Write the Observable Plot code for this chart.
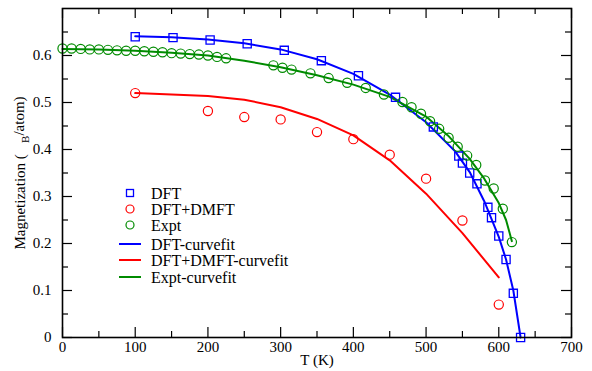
<!DOCTYPE html>
<html>
<head>
<meta charset="utf-8">
<script src="https://cdn.jsdelivr.net/npm/d3@7"></script>
<script src="https://cdn.jsdelivr.net/npm/@observablehq/plot@0.6"></script>
<style>
  html, body { margin: 0; padding: 0; background: #fff; }
  #chart svg { display: block; }
  #chart svg, #chart svg text { font-family: "Liberation Serif", "Times New Roman", serif !important; }
</style>
</head>
<body>
<div id="chart"></div>
<script>
// ---- data ----
const dftT = [100, 152, 203, 254, 305, 356, 407, 458, 510, 545, 550, 560, 570, 585, 590, 600, 610, 620, 630];
const dftM = [0.640, 0.638, 0.633, 0.625, 0.611, 0.589, 0.557, 0.511, 0.448, 0.386, 0.371, 0.350, 0.327, 0.277, 0.255, 0.216, 0.166, 0.094, 0.0];

const dmftT = [100, 200, 250, 300, 350, 400, 450, 500, 550, 600];
const dmftM = [0.520, 0.482, 0.469, 0.464, 0.437, 0.422, 0.389, 0.338, 0.249, 0.070];

const exptT = [0, 12.5, 25, 37.5, 50, 62.5, 75, 87.5, 100, 112.5, 125, 137.5, 150, 162.5, 175, 187.5, 200, 212.5, 225,
               290, 302.5, 315, 341, 366, 391.5, 417, 442, 467.5, 480, 493, 505.5, 518, 531, 543.5, 556.5, 569, 581, 593, 605.5, 618];
const exptM = [0.615, 0.615, 0.614, 0.613, 0.613, 0.612, 0.611, 0.610, 0.610, 0.609, 0.608, 0.607, 0.605, 0.604, 0.603, 0.602, 0.600, 0.597, 0.594,
               0.579, 0.574, 0.570, 0.562, 0.552, 0.542, 0.531, 0.517, 0.501, 0.490, 0.476, 0.460, 0.444, 0.425, 0.406, 0.387, 0.367, 0.334, 0.317, 0.274, 0.203];

const dftFitT = [100, 150, 200, 250, 300, 350, 400, 450, 500, 540, 560, 580, 600, 610, 620, 630];
const dftFitM = [0.641, 0.639, 0.634, 0.626, 0.613, 0.592, 0.561, 0.517, 0.458, 0.396, 0.352, 0.290, 0.214, 0.166, 0.100, 0.0];

const dmftFitT = [100, 200, 250, 300, 350, 400, 450, 500, 550, 600];
const dmftFitM = [0.520, 0.514, 0.506, 0.490, 0.465, 0.430, 0.377, 0.306, 0.222, 0.128];

const exptFitT = [0, 50, 100, 150, 200, 250, 300, 350, 400, 450, 500, 530, 560, 580, 600, 610, 618];
const exptFitM = [0.614, 0.613, 0.610, 0.606, 0.600, 0.589, 0.575, 0.558, 0.538, 0.512, 0.470, 0.430, 0.380, 0.338, 0.286, 0.250, 0.205];

const xMajor = [0, 100, 200, 300, 400, 500, 600, 700];
const xMinor = [50, 150, 250, 350, 450, 550, 650];
const yMajor = [0, 0.1, 0.2, 0.3, 0.4, 0.5, 0.6];
const yMinor = [0.05, 0.15, 0.25, 0.35, 0.45, 0.55, 0.65];

const xLabel = "T (K)";
const yLabelParts = ["Magnetization (", "B", "/atom)"];

const seriesNames = ["DFT", "DFT+DMFT", "Expt", "DFT-curvefit", "DFT+DMFT-curvefit", "Expt-curvefit"];
const colors = {blue: "#0000ff", red: "#ff0000", green: "#008b00"};

// ---- tables ----
const zip = (T, M) => T.map((t, i) => ({T: t, M: M[i]}));
const dft = zip(dftT, dftM), dmft = zip(dmftT, dmftM), expt = zip(exptT, exptM);
const dftFit = zip(dftFitT, dftFitM), dmftFit = zip(dmftFitT, dmftFitM), exptFit = zip(exptFitT, exptFitM);

// ---- layout ----
const W = 592, H = 371, mL = 62, mR = 21, mT = 8, mB = 34;
const innerW = W - mL - mR, innerH = H - mT - mB;
const majorLen = 10, minorLen = 6;
const serif = "'Liberation Serif', 'Times New Roman', serif";

const fmtY = d => d === 0 ? "0" : d.toFixed(1);

const chart = Plot.plot({
  width: W, height: H,
  marginLeft: mL, marginRight: mR, marginTop: mT, marginBottom: mB,
  style: {fontSize: "15px", color: "#000", background: "#fff"},
  x: {domain: [0, 700], axis: null},
  y: {domain: [0, 0.7], axis: null},
  marks: [
    // ticks inward on all four sides
    Plot.tickX(xMajor, {x: d => d, insetTop: innerH - majorLen, stroke: "#000", strokeWidth: 1.2}),
    Plot.tickX(xMajor, {x: d => d, insetBottom: innerH - majorLen, stroke: "#000", strokeWidth: 1.2}),
    Plot.tickX(xMinor, {x: d => d, insetTop: innerH - minorLen, stroke: "#000", strokeWidth: 1.2}),
    Plot.tickX(xMinor, {x: d => d, insetBottom: innerH - minorLen, stroke: "#000", strokeWidth: 1.2}),
    Plot.tickY(yMajor, {y: d => d, insetRight: innerW - majorLen, stroke: "#000", strokeWidth: 1.2}),
    Plot.tickY(yMajor, {y: d => d, insetLeft: innerW - majorLen, stroke: "#000", strokeWidth: 1.2}),
    Plot.tickY(yMinor, {y: d => d, insetRight: innerW - minorLen, stroke: "#000", strokeWidth: 1.2}),
    Plot.tickY(yMinor, {y: d => d, insetLeft: innerW - minorLen, stroke: "#000", strokeWidth: 1.2}),
    // tick labels
    Plot.axisX(xMajor, {anchor: "bottom", tickSize: 0, tickPadding: 4, fontSize: 15, label: null}),
    Plot.axisY(yMajor, {anchor: "left", tickSize: 0, tickPadding: 11, tickFormat: fmtY, fontSize: 15, label: null}),
    // fit curves
    Plot.line(dftFit, {x: "T", y: "M", stroke: colors.blue, strokeWidth: 2}),
    Plot.line(dmftFit, {x: "T", y: "M", stroke: colors.red, strokeWidth: 2}),
    Plot.line(exptFit, {x: "T", y: "M", stroke: colors.green, strokeWidth: 2}),
    // symbols
    Plot.dot(dft, {x: "T", y: "M", symbol: "square", r: 4.6, stroke: colors.blue, strokeWidth: 1.3, fill: "none"}),
    Plot.dot(dmft, {x: "T", y: "M", symbol: "circle", r: 4.6, stroke: colors.red, strokeWidth: 1.2, fill: "none"}),
    Plot.dot(expt, {x: "T", y: "M", symbol: "circle", r: 4.6, stroke: colors.green, strokeWidth: 1.2, fill: "none"}),
    // frame
    Plot.frame({stroke: "#000", strokeWidth: 1.6}),
    // axis titles
    Plot.text([xLabel], {text: d => d, frameAnchor: "bottom", dy: 27, fontSize: 15, fill: "#000"}),
    Plot.text([yLabelParts.join("")], {text: d => d, frameAnchor: "left", textAnchor: "middle", dx: -42, rotate: -90, fontSize: 15, fill: "#000"})
  ]
});

document.getElementById("chart").appendChild(chart);

const svg = d3.select(chart);

// y label with the (missing) mu glyph gap and subscript B
svg.selectAll("text").each(function() {
  const t = d3.select(this);
  if (t.text() === yLabelParts.join("")) {
    t.text(null);
    t.append("tspan").text(yLabelParts[0] + "\u2002 ");
    t.append("tspan").attr("font-size", 11).attr("dy", "0.3em").text(yLabelParts[1]);
    t.append("tspan").attr("dy", "-0.3em").text(yLabelParts[2]);
  }
});

// legend (inside plot area)
const legend = svg.append("g").attr("font-size", 16).attr("text-anchor", "start");
const rowsY = [193, 209, 225, 244, 260, 277];
const legendSpec = [
  {kind: "square", color: colors.blue},
  {kind: "circle", color: colors.red},
  {kind: "circle", color: colors.green},
  {kind: "line", color: colors.blue},
  {kind: "line", color: colors.red},
  {kind: "line", color: colors.green}
];
legendSpec.forEach((s, i) => {
  const y = rowsY[i], cx = 130;
  if (s.kind === "square") {
    legend.append("rect").attr("x", cx - 3.5).attr("y", y - 3.5).attr("width", 7).attr("height", 7)
      .attr("fill", "none").attr("stroke", s.color).attr("stroke-width", 1.3);
  } else if (s.kind === "circle") {
    legend.append("circle").attr("cx", cx).attr("cy", y).attr("r", 4)
      .attr("fill", "none").attr("stroke", s.color).attr("stroke-width", 1.2);
  } else {
    legend.append("line").attr("x1", 119).attr("x2", 141).attr("y1", y).attr("y2", y)
      .attr("stroke", s.color).attr("stroke-width", 2);
  }
  legend.append("text").attr("x", 151).attr("y", y).attr("dy", "0.35em")
    .attr("text-anchor", "start").attr("fill", "#000").text(seriesNames[i]);
});

// make sure every text uses the serif face
svg.selectAll("text").style("font-family", serif);
</script>
</body>
</html>
